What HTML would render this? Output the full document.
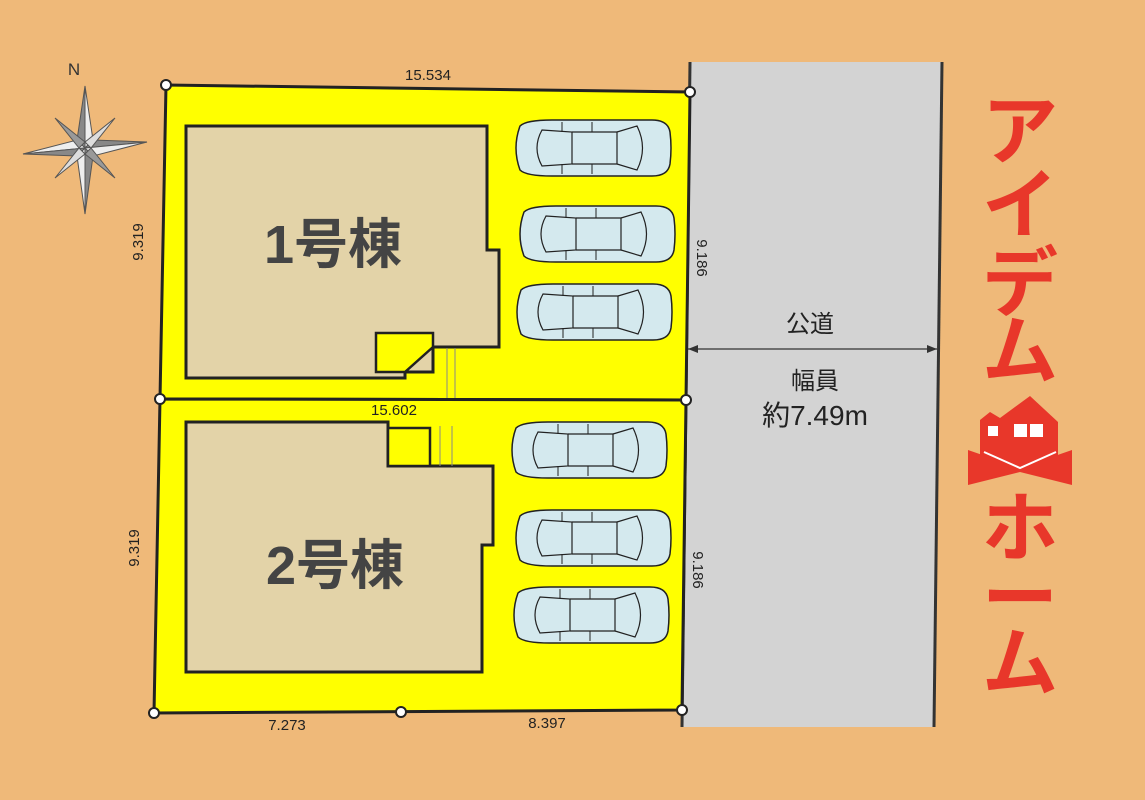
<!DOCTYPE html>
<html><head><meta charset="utf-8"><style>
html,body{margin:0;padding:0;background:#EFB979;}
svg{display:block;}
text{font-family:"Liberation Sans","Noto Sans CJK JP",sans-serif;}
</style></head><body>
<svg width="1145" height="800" viewBox="0 0 1145 800" xmlns="http://www.w3.org/2000/svg">
<defs>
<g id="car">
<path d="M8,6 Q0,28 8,50 Q14,56 40,56 L140,56 Q156,56 158,44 Q160,28 158,12 Q156,0 140,0 L40,0 Q14,0 8,6 Z" fill="#D4E9EE" stroke="#222" stroke-width="1.5"/>
<path d="M30,10 L60,12 L60,44 L30,46 Q20,28 30,10 Z" fill="none" stroke="#222" stroke-width="1.2"/>
<path d="M60,12 L105,12 L105,44 L60,44" fill="none" stroke="#222" stroke-width="1.2"/>
<path d="M105,12 L125,6 Q136,28 125,50 L105,44" fill="none" stroke="#222" stroke-width="1.2"/>
<line x1="80" y1="2" x2="80" y2="12" stroke="#222"/><line x1="80" y1="44" x2="80" y2="54" stroke="#222"/>
<line x1="50" y1="2" x2="50" y2="12" stroke="#222"/><line x1="50" y1="44" x2="50" y2="54" stroke="#222"/>
</g>
</defs>
<polygon points="690,62 942,62 934,727 682,727" fill="#D3D3D3"/>
<line x1="690" y1="62" x2="682" y2="727" stroke="#333" stroke-width="3"/>
<line x1="942" y1="62" x2="934" y2="727" stroke="#333" stroke-width="3"/>
<line x1="688" y1="349" x2="937" y2="349" stroke="#333" stroke-width="1.2"/>
<polygon points="688,349 698,345 698,353" fill="#333"/><polygon points="937,349 927,345 927,353" fill="#333"/>
<text x="810" y="332" font-size="24" text-anchor="middle" fill="#222">公道</text>
<text x="815" y="389" font-size="24" text-anchor="middle" fill="#222">幅員</text>
<text x="815" y="425" font-size="28" text-anchor="middle" fill="#222">約7.49m</text>
<polygon points="166,85 690,92 686,400 160,399" fill="#FFFF00" stroke="#222" stroke-width="3"/>
<polygon points="160,399 686,400 682,710 154,713" fill="#FFFF00" stroke="#222" stroke-width="3"/>
<polygon points="186,126 487,126 487,250 499,250 499,347 433,347 433,372 405,372 405,378 186,378" fill="#E3D3A8" stroke="#222" stroke-width="3"/>
<polygon points="376,333 433,333 433,347 405,372 376,372" fill="#FFFF00" stroke="#222" stroke-width="2.5"/>
<line x1="447" y1="348" x2="447" y2="398" stroke="#888"/><line x1="455" y1="348" x2="455" y2="398" stroke="#888"/>
<text x="333" y="263" font-size="54" font-weight="bold" text-anchor="middle" fill="#444">1号棟</text>
<polygon points="186,422 388,422 388,466 493,466 493,545 482,545 482,672 186,672" fill="#E3D3A8" stroke="#222" stroke-width="3"/>
<polygon points="388,428 430,428 430,466 388,466" fill="#FFFF00" stroke="#222" stroke-width="2.5"/>
<line x1="440" y1="426" x2="440" y2="466" stroke="#888"/><line x1="452" y1="426" x2="452" y2="466" stroke="#888"/>
<text x="335" y="584" font-size="54" font-weight="bold" text-anchor="middle" fill="#444">2号棟</text>
<use href="#car" x="512" y="120"/>
<use href="#car" x="516" y="206"/>
<use href="#car" x="513" y="284"/>
<use href="#car" x="508" y="422"/>
<use href="#car" x="512" y="510"/>
<use href="#car" x="510" y="587"/>
<g fill="#fff" stroke="#222" stroke-width="2">
<circle cx="166" cy="85" r="5"/><circle cx="690" cy="92" r="5"/><circle cx="160" cy="399" r="5"/><circle cx="686" cy="400" r="5"/>
<circle cx="154" cy="713" r="5"/><circle cx="401" cy="712" r="5"/><circle cx="682" cy="710" r="5"/>
</g>
<g font-size="15" fill="#222">
<text x="428" y="80" text-anchor="middle">15.534</text>
<text x="394" y="415" text-anchor="middle">15.602</text>
<text x="287" y="730" text-anchor="middle">7.273</text>
<text x="547" y="728" text-anchor="middle">8.397</text>
<text transform="translate(143,242) rotate(-90)" text-anchor="middle">9.319</text>
<text transform="translate(139,548) rotate(-90)" text-anchor="middle">9.319</text>
<text transform="translate(697,258) rotate(90)" text-anchor="middle">9.186</text>
<text transform="translate(693,570) rotate(90)" text-anchor="middle">9.186</text>
</g>
<text x="74" y="75" font-size="17" text-anchor="middle" fill="#333">N</text>
<g transform="translate(85,148)" stroke="#555" stroke-width="1">
<polygon points="0,-62 8,-8 0,0" fill="#eee"/><polygon points="0,-62 -8,-8 0,0" fill="#888"/>
<polygon points="0,66 8,8 0,0" fill="#888"/><polygon points="0,66 -8,8 0,0" fill="#eee"/>
<polygon points="-62,6 -8,-8 0,0" fill="#eee"/><polygon points="-62,6 -8,8 0,0" fill="#888"/>
<polygon points="62,-6 8,-8 0,0" fill="#888"/><polygon points="62,-6 8,8 0,0" fill="#eee"/>
<polygon points="-30,-30 0,-6 -6,0" fill="#999"/><polygon points="30,-30 6,0 0,-6" fill="#ddd"/>
<polygon points="-30,30 -6,0 0,6" fill="#ddd"/><polygon points="30,30 0,6 6,0" fill="#999"/>
</g>
<g fill="#E8372A" font-size="76" font-weight="bold" text-anchor="middle">
<text x="1020" y="158">ア</text>
<text x="1020" y="232">イ</text>
<text x="1020" y="310">デ</text>
<text x="1020" y="378">ム</text>
<text x="1020" y="555">ホ</text>
<text x="1020" y="625">ー</text>
<text x="1020" y="690">ム</text>
</g>
<g transform="translate(960,380)">
<polygon points="20,40 30,32 40,38 70,16 98,42 98,88 20,88" fill="#E8372A"/>
<rect x="28" y="46" width="10" height="10" fill="#fff"/><rect x="54" y="44" width="13" height="13" fill="#fff"/><rect x="70" y="44" width="13" height="13" fill="#fff"/>
<polygon points="8,70 60,88 112,70 112,105 60,92 8,105" fill="#E8372A"/>
<polyline points="24,72 60,88 96,72" fill="none" stroke="#fff" stroke-width="2"/>
</g>
</svg>
</body></html>
